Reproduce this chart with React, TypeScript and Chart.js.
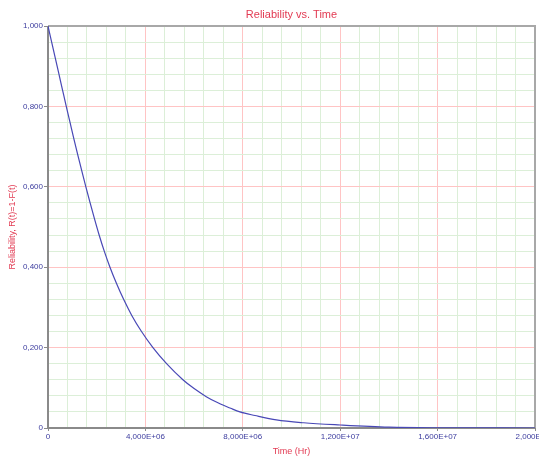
import React, { useEffect, useRef } from "react";
import { Chart, registerables } from "chart.js";

Chart.register(...registerables);

// Time (Hr) values
const timeHr = [
  0, 0.15e6, 0.3e6, 0.45e6, 0.6e6, 0.75e6, 0.905e6, 1.06e6, 1.22e6, 1.385e6,
  1.555e6, 1.73e6, 1.91e6, 2.1e6, 2.31e6, 2.545e6, 2.81e6, 3.105e6, 3.44e6,
  3.84e6, 4.31e6, 4.87e6, 5.54e6, 6.0e6, 6.5e6, 7.0e6, 7.5e6, 7.88e6, 8.5e6,
  9.38e6, 10.5e6, 12.0e6, 14.0e6, 16.0e6, 20.0e6,
];
// Reliability R(t)=1-F(t)
const reliability = [
  1.0, 0.96, 0.92, 0.88, 0.84, 0.8, 0.76, 0.72, 0.68, 0.64,
  0.6, 0.56, 0.52, 0.48, 0.44, 0.4, 0.36, 0.32, 0.28,
  0.24, 0.2, 0.16, 0.12, 0.098, 0.078, 0.062, 0.049, 0.04, 0.031,
  0.02, 0.013, 0.0075, 0.002, 0.0005, 0.0,
];

const xMajorTicks = [0, 4e6, 8e6, 12e6, 16e6, 20e6];
const yMajorTicks = [0, 0.2, 0.4, 0.6, 0.8, 1.0];
const xMinorStep = 8e5;
const yMinorStep = 0.04;

const TITLE = "Reliability vs. Time";
const X_TITLE = "Time (Hr)";
const Y_TITLE = "Reliability, R(t)=1-F(t)";

const FONT = "'Liberation Sans', Arial, sans-serif";
const RED_TEXT = "#e23a52";
const TICK_TEXT = "#3c3c9e";
const MAJOR_GRID = "#ffc4c4";
const MINOR_GRID = "#dcefd8";

const isMajorX = (v: number) => xMajorTicks.some((m) => Math.abs(m - v) < 1);
const isMajorY = (v: number) => yMajorTicks.some((m) => Math.abs(m - v) < 1e-6);

const fmtX = (v: number) => {
  if (Math.abs(v) < 1) return "0";
  const e = Math.floor(Math.log10(v) + 1e-9);
  const m = v / Math.pow(10, e);
  return m.toFixed(3).replace(".", ",") + "E+" + String(e).padStart(2, "0");
};
const fmtY = (v: number) => (Math.abs(v) < 1e-9 ? "0" : v.toFixed(3).replace(".", ","));

const framePlugin = {
  id: "frame",
  beforeDatasetsDraw(chart: any) {
    const { ctx, chartArea } = chart;
    const { left, top, right, bottom } = chartArea;
    ctx.save();
    ctx.strokeStyle = "#a8a8a8";
    ctx.lineWidth = 2;
    ctx.beginPath();
    ctx.moveTo(left, top);
    ctx.lineTo(right, top);
    ctx.lineTo(right, bottom);
    ctx.stroke();
    ctx.strokeStyle = "#8a8a8a";
    ctx.lineWidth = 2;
    ctx.beginPath();
    ctx.moveTo(left, top);
    ctx.lineTo(left, bottom);
    ctx.lineTo(right, bottom);
    ctx.stroke();
    ctx.restore();
  },
};

export default function App() {
  const ref = useRef<HTMLCanvasElement | null>(null);

  useEffect(() => {
    if (!ref.current) return;
    const chart = new Chart(ref.current, {
      type: "line",
      data: {
        datasets: [
          {
            data: timeHr.map((t, i) => ({ x: t, y: reliability[i] })),
            borderColor: "#4848b6",
            borderWidth: 1.2,
            pointRadius: 0,
            cubicInterpolationMode: "monotone",
            fill: false,
          },
        ],
      },
      options: {
        responsive: false,
        animation: false,
        devicePixelRatio: 1,
        layout: { padding: { left: 0, right: 4, top: 0, bottom: 0 } },
        plugins: {
          legend: { display: false },
          tooltip: { enabled: false },
          title: {
            display: true,
            text: TITLE,
            color: RED_TEXT,
            fullSize: false,
            font: { family: FONT, size: 11, weight: "normal" },
            padding: { top: 8.4, bottom: 4.4 },
          },
        },
        scales: {
          x: {
            type: "linear",
            position: "bottom",
            min: 0,
            max: 2e7,
            border: { display: false },
            ticks: {
              stepSize: xMinorStep,
              autoSkip: false,
              maxRotation: 0,
              minRotation: 0,
              padding: 1,
              color: TICK_TEXT,
              font: { family: FONT, size: 8 },
              callback: (v: any) => (isMajorX(Number(v)) ? fmtX(Number(v)) : ""),
            },
            grid: {
              color: (c: any) => (isMajorX(c.tick.value) ? MAJOR_GRID : MINOR_GRID),
              tickColor: (c: any) => (isMajorX(c.tick.value) ? "#8a8a8a" : "rgba(0,0,0,0)"),
              lineWidth: 1,
              tickLength: 3,
            },
            title: {
              display: true,
              text: X_TITLE,
              color: RED_TEXT,
              font: { family: FONT, size: 9 },
              padding: { top: 0, bottom: 1.6 },
            },
            afterFit: (s: any) => {
              s.height = 31;
              s.paddingLeft = 0;
              s.paddingRight = 0;
            },
          },
          y: {
            type: "linear",
            min: 0,
            max: 1,
            border: { display: false },
            ticks: {
              stepSize: yMinorStep,
              autoSkip: false,
              padding: 1,
              color: TICK_TEXT,
              font: { family: FONT, size: 8 },
              callback: (v: any) => (isMajorY(Number(v)) ? fmtY(Number(v)) : ""),
            },
            grid: {
              color: (c: any) => (isMajorY(c.tick.value) ? MAJOR_GRID : MINOR_GRID),
              tickColor: (c: any) => (isMajorY(c.tick.value) ? "#8a8a8a" : "rgba(0,0,0,0)"),
              lineWidth: 1,
              tickLength: 4,
            },
            title: {
              display: true,
              text: Y_TITLE,
              color: RED_TEXT,
              font: { family: FONT, size: 9 },
              padding: { top: 7.6, bottom: 0 },
            },
            afterFit: (s: any) => {
              s.width = 48;
              s.paddingTop = 0;
              s.paddingBottom = 0;
            },
          },
        },
      } as any,
      plugins: [framePlugin],
    });
    return () => chart.destroy();
  }, []);

  return (
    <div style={{ position: "absolute", left: 0, top: 0, width: 539, height: 459, background: "#fff" }}>
      <canvas ref={ref} width={539} height={459} style={{ display: "block" }} />
    </div>
  );
}
